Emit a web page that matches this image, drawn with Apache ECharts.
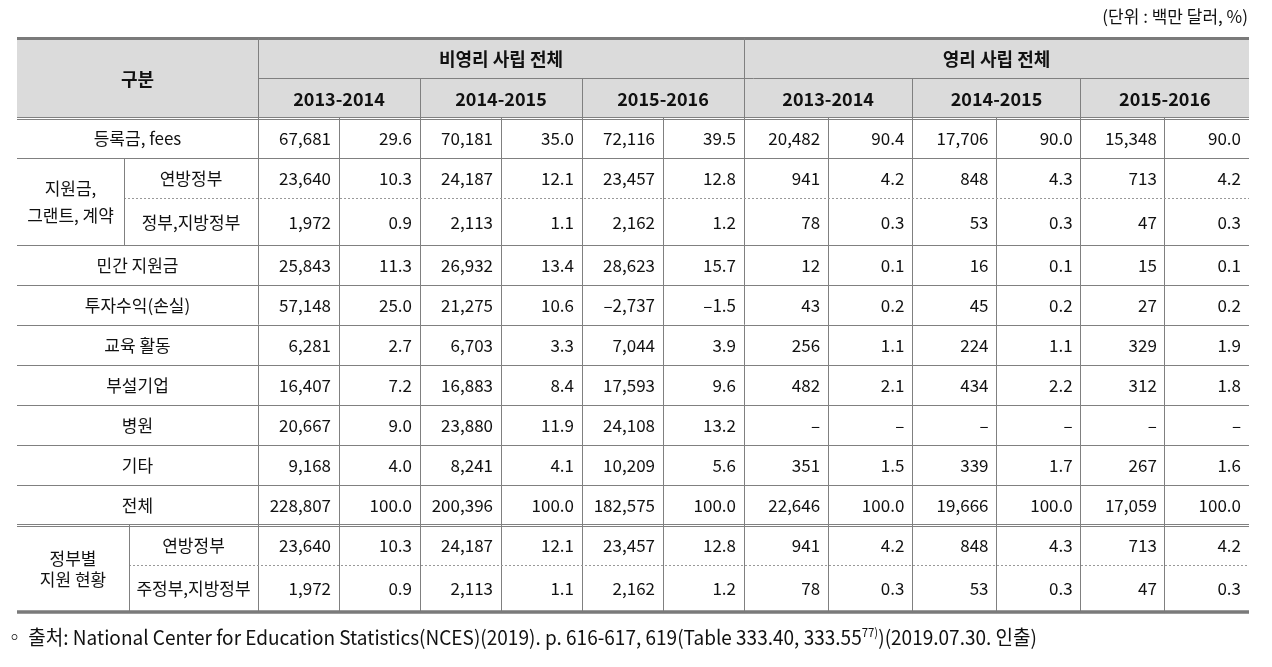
<!DOCTYPE html>
<html><head><meta charset="utf-8">
<script src="https://cdn.jsdelivr.net/npm/echarts@6/dist/echarts.min.js"></script>
<style>html,body{margin:0;padding:0;background:#fff}#c{width:1272px;height:667px}</style>
</head><body><div id="c"></div>
<script>
// ---------------- data ----------------
const unitNote = '(단위 : 백만 달러, %)';
const headerCorner = '구분';
const groupNames = ['비영리 사립 전체', '영리 사립 전체'];
const years = ['2013-2014', '2014-2015', '2015-2016'];
const rowLabels = ['등록금, fees', '연방정부', '정부,지방정부', '민간 지원금', '투자수익(손실)', '교육 활동', '부설기업', '병원', '기타', '전체', '연방정부', '주정부,지방정부'];
const spanLabels = ['지원금,\n그랜트, 계약', '정부별\n지원 현황'];
const spanRows = [[1, 2], [10, 11]];

const np1314Amt = [67681, 23640, 1972, 25843, 57148, 6281, 16407, 20667, 9168, 228807, 23640, 1972];
const np1314Pct = [29.6, 10.3, 0.9, 11.3, 25.0, 2.7, 7.2, 9.0, 4.0, 100.0, 10.3, 0.9];
const np1415Amt = [70181, 24187, 2113, 26932, 21275, 6703, 16883, 23880, 8241, 200396, 24187, 2113];
const np1415Pct = [35.0, 12.1, 1.1, 13.4, 10.6, 3.3, 8.4, 11.9, 4.1, 100.0, 12.1, 1.1];
const np1516Amt = [72116, 23457, 2162, 28623, -2737, 7044, 17593, 24108, 10209, 182575, 23457, 2162];
const np1516Pct = [39.5, 12.8, 1.2, 15.7, -1.5, 3.9, 9.6, 13.2, 5.6, 100.0, 12.8, 1.2];
const fp1314Amt = [20482, 941, 78, 12, 43, 256, 482, null, 351, 22646, 941, 78];
const fp1314Pct = [90.4, 4.2, 0.3, 0.1, 0.2, 1.1, 2.1, null, 1.5, 100.0, 4.2, 0.3];
const fp1415Amt = [17706, 848, 53, 16, 45, 224, 434, null, 339, 19666, 848, 53];
const fp1415Pct = [90.0, 4.3, 0.3, 0.1, 0.2, 1.1, 2.2, null, 1.7, 100.0, 4.3, 0.3];
const fp1516Amt = [15348, 713, 47, 15, 27, 329, 312, null, 267, 17059, 713, 47];
const fp1516Pct = [90.0, 4.2, 0.3, 0.1, 0.2, 1.9, 1.8, null, 1.6, 100.0, 4.2, 0.3];
const footPre = '◦ 출처: National Center for Education Statistics(NCES)(2019). p. 616-617, 619(Table 333.40, 333.55';
const footSup = '77)';
const footPost = ')(2019.07.30. 인출)';

const columns = [np1314Amt, np1314Pct, np1415Amt, np1415Pct, np1516Amt, np1516Pct,
                 fp1314Amt, fp1314Pct, fp1415Amt, fp1415Pct, fp1516Amt, fp1516Pct];

// ---------------- layout / style ----------------
const FONT = '"Noto Sans CJK KR", "Noto Sans", sans-serif';
const L = { x0: 17, xLabel: 258, xSub: [124, 129], xRight: 1249, wNP: 81,
            yTop: 38, yHead1: 78.5, yHead2: 118,
            rowH: [40, 40, 47, 40, 40, 40, 40, 40, 40, 40, 40, 46], pad: 8 };
const LINE = '#808080', THICK = '#7a7a7a', HEADFILL = '#dbdbdb', TXT = '#111';

const colX = [L.xLabel];
for (let i = 0; i < 6; i++) colX.push(colX[colX.length - 1] + L.wNP);
const wFP = (L.xRight - colX[6]) / 6;
for (let i = 0; i < 6; i++) colX.push(colX[colX.length - 1] + wFP);
const rowY = [L.yHead2];
L.rowH.forEach(h => rowY.push(rowY[rowY.length - 1] + h));
const yBottom = rowY[rowY.length - 1];

const fmtAmt = v => v == null ? '–' : (v < 0 ? '–' : '') + Math.abs(v).toLocaleString('en-US');
const fmtPct = v => v == null ? '–' : (v < 0 ? '–' : '') + Math.abs(v).toFixed(1);

// cells
const cells = [];
function addCell(x0, y0, x1, y1, text, opt) { cells.push(Object.assign({ box: [x0, y0, x1, y1], text }, opt || {})); }
addCell(L.x0, L.yTop, L.xLabel, L.yHead2, headerCorner, { head: true });
groupNames.forEach((g, gi) => addCell(colX[gi * 6], L.yTop, colX[gi * 6 + 6], L.yHead1, g, { head: true }));
groupNames.forEach((g, gi) => years.forEach((y, yi) =>
  addCell(colX[gi * 6 + yi * 2], L.yHead1, colX[gi * 6 + yi * 2 + 2], L.yHead2, y, { head: true })));
rowLabels.forEach((lab, r) => {
  const gi = spanRows.findIndex(s => s.includes(r));
  addCell(gi >= 0 ? L.xSub[gi] : L.x0, rowY[r], L.xLabel, rowY[r + 1], lab);
});
spanLabels.forEach((lab, gi) => {
  const [ra, rb] = spanRows[gi];
  addCell(L.x0, rowY[ra], L.xSub[gi], rowY[rb + 1], lab, { lh: gi === 0 ? 27 : 21 });
});
columns.forEach((col, c) => col.forEach((v, r) =>
  addCell(colX[c], rowY[r], colX[c + 1], rowY[r + 1], c % 2 ? fmtPct(v) : fmtAmt(v), { align: 'right' })));

// lines
const lines = [];
function addLine(x0, y0, x1, y1, opt) { lines.push(Object.assign({ p: [x0, y0, x1, y1], w: 1, color: LINE }, opt || {})); }
addLine(L.x0, L.yTop + 0.5, L.xRight, L.yTop + 0.5, { w: 3, color: THICK });
addLine(L.xLabel, L.yHead1, L.xRight, L.yHead1);
addLine(L.xLabel, L.yTop, L.xLabel, yBottom);
addLine(colX[6], L.yTop, colX[6], yBottom);
[2, 4, 8, 10].forEach(c => addLine(colX[c], L.yHead1, colX[c], L.yHead2));
colX.slice(1, -1).forEach((x, i) => { if (i + 1 !== 6) addLine(x, L.yHead2, x, yBottom); });
addLine(L.x0, L.yHead2 - 1, L.xRight, L.yHead2 - 1);
addLine(L.x0, L.yHead2 + 1.5, L.xRight, L.yHead2 + 1.5);
[1, 3, 4, 5, 6, 7, 8, 9, 10].forEach(r => {
  if (r === 10) {
    addLine(L.x0, rowY[r] - 1, L.xRight, rowY[r] - 1);
    addLine(L.x0, rowY[r] + 1.5, L.xRight, rowY[r] + 1.5);
  } else addLine(L.x0, rowY[r], L.xRight, rowY[r]);
});
spanRows.forEach((s, gi) => {
  addLine(L.xSub[gi], rowY[s[1]], L.xRight, rowY[s[1]], { dash: [2, 2], color: '#999' });
  addLine(L.xSub[gi], rowY[s[0]], L.xSub[gi], rowY[s[1] + 1]);
});
addLine(L.x0, yBottom + 0.5, L.xRight, yBottom + 0.5, { w: 3.5, color: THICK });

// footnote horizontal fit (condensed look of the original)
const ctx = document.createElement('canvas').getContext('2d');
ctx.font = '20px ' + FONT;
let fw = ctx.measureText(footPre + footPost).width;
ctx.font = '12px ' + FONT;
fw += ctx.measureText(footSup).width;
const footScale = 1032 / fw;

// ---------------- chart ----------------
const chart = echarts.init(document.getElementById('c'), null, { renderer: 'canvas' });
const crisp = (v, w) => (Math.round(w) % 2 === 1 ? Math.floor(v) + 0.5 : Math.round(v));

chart.setOption({
  animation: false,
  backgroundColor: '#fff',
  grid: { left: 0, right: 0, top: 0, bottom: 0 },
  xAxis: { type: 'value', min: 0, max: 1272, show: false },
  yAxis: { type: 'value', min: 0, max: 667, inverse: true, show: false },
  graphic: [
    { type: 'text', right: 24, top: 8, style: { text: unitNote, font: '17px ' + FONT, fill: TXT } },
    { type: 'text', x: 5, y: 626, scaleX: footScale, originX: 0,
      style: { text: footPre + '{s|' + footSup + '}' + footPost, font: '20px ' + FONT, fill: TXT,
               rich: { s: { fontSize: 12, fontFamily: FONT, verticalAlign: 'top', padding: [0, 0, 10, 0] } } } }
  ],
  series: [
    { type: 'custom', z: 1, silent: true,
      data: [[L.x0, L.yTop, L.xRight, L.yHead2 - 1]],
      renderItem: (p, api) => {
        const a = api.coord([api.value(0), api.value(1)]), b = api.coord([api.value(2), api.value(3)]);
        return { type: 'rect', shape: { x: a[0], y: a[1], width: b[0] - a[0], height: b[1] - a[1] }, style: { fill: HEADFILL } };
      } },
    { type: 'custom', z: 2, silent: true,
      data: lines.map(l => l.p),
      renderItem: (p, api) => {
        const l = lines[p.dataIndex];
        const a = api.coord([api.value(0), api.value(1)]), b = api.coord([api.value(2), api.value(3)]);
        const horiz = Math.abs(a[1] - b[1]) < 0.01;
        const sh = horiz
          ? { x1: a[0], x2: b[0], y1: crisp(a[1], l.w), y2: crisp(b[1], l.w) }
          : { x1: crisp(a[0], l.w), x2: crisp(b[0], l.w), y1: a[1], y2: b[1] };
        return { type: 'line', shape: sh, style: { stroke: l.color, lineWidth: l.w, lineDash: l.dash || null } };
      } },
    { type: 'custom', z: 3, silent: true,
      data: cells.map(c => c.box),
      renderItem: (p, api) => {
        const c = cells[p.dataIndex];
        const a = api.coord([api.value(0), api.value(1)]), b = api.coord([api.value(2), api.value(3)]);
        const right = c.align === 'right';
        return { type: 'text', x: right ? b[0] - L.pad : (a[0] + b[0]) / 2, y: (a[1] + b[1]) / 2 + 1,
          style: { text: c.text, align: right ? 'right' : 'center', verticalAlign: 'middle',
                   fontFamily: FONT, fontSize: c.head ? 18 : 17, fontWeight: c.head ? 'bold' : 'normal',
                   lineHeight: c.lh || 20, fill: TXT } };
      } }
  ]
});
</script></body></html>
